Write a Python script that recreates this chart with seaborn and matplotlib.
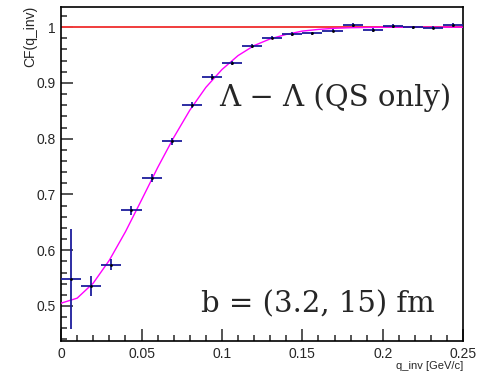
import numpy as np
import matplotlib
matplotlib.use("Agg")
import matplotlib.pyplot as plt
import seaborn as sns
from matplotlib.ticker import MultipleLocator
from matplotlib import font_manager

# ---------------------------------------------------------
# Data
# ---------------------------------------------------------
q_centers = [0.00625, 0.01875, 0.03125, 0.04375, 0.05625, 0.06875, 0.08125,
             0.09375, 0.10625, 0.11875, 0.13125, 0.14375, 0.15625, 0.16875,
             0.18125, 0.19375, 0.20625, 0.21875, 0.23125, 0.24375]
cf_values = [0.548, 0.535, 0.574, 0.672, 0.730, 0.795, 0.860,
             0.911, 0.936, 0.966, 0.981, 0.988, 0.989, 0.994,
             1.004, 0.995, 1.002, 1.000, 0.999, 1.004]
cf_errors = [0.090, 0.018, 0.010, 0.008, 0.007, 0.006, 0.005,
             0.005, 0.004, 0.004, 0.003, 0.003, 0.003, 0.003,
             0.003, 0.003, 0.003, 0.003, 0.003, 0.003]
bin_half = 0.00625

# fit curve
fit_q = [0.0, 0.01, 0.02, 0.03, 0.04, 0.05, 0.06, 0.07, 0.08, 0.09, 0.10,
         0.11, 0.12, 0.13, 0.14, 0.15, 0.16, 0.17, 0.18, 0.20, 0.25]
fit_cf = [0.505, 0.514, 0.541, 0.582, 0.633, 0.690, 0.748, 0.802, 0.851,
          0.892, 0.924, 0.949, 0.967, 0.979, 0.987, 0.993, 0.996, 0.998,
          0.999, 1.000, 1.000]

# narrow sans for the ROOT-like axis text, if it is there
names = {f.name for f in font_manager.fontManager.ttflist}
axis_font = "Liberation Sans Narrow" if "Liberation Sans Narrow" in names else "Liberation Sans"

# ---------------------------------------------------------
# Plot
# ---------------------------------------------------------
sns.set_style("white")
fig = plt.figure(figsize=(4.81, 3.74), dpi=100)
ax = fig.add_axes([0.127, 0.088, 0.836, 0.893])

ax.axhline(1.0, color="#f03c3c", lw=1.4, zorder=2)
sns.lineplot(x=fit_q, y=fit_cf, ax=ax, color="#ff00ff", lw=1.0, zorder=3)
ax.errorbar(q_centers, cf_values, xerr=bin_half, yerr=cf_errors, fmt="none",
            ecolor="#1c1c9c", elinewidth=1.3, capsize=0, zorder=4)
sns.scatterplot(x=q_centers, y=cf_values, ax=ax, color="black", s=4,
                marker="o", linewidth=0, zorder=5)

ax.set_xlim(0, 0.25)
ax.set_ylim(0.437, 1.036)

ax.xaxis.set_minor_locator(MultipleLocator(0.01))
ax.yaxis.set_minor_locator(MultipleLocator(0.02))
ax.set_xticks([0, 0.05, 0.1, 0.15, 0.2, 0.25])
ax.set_xticklabels(["0", "0.05", "0.1", "0.15", "0.2", "0.25"])
ax.set_yticks([0.5, 0.6, 0.7, 0.8, 0.9, 1.0])
ax.set_yticklabels(["0.5", "0.6", "0.7", "0.8", "0.9", "1"])

ax.tick_params(which="major", direction="in", length=8.5, width=1.1,
               labelsize=10, pad=4, left=True, bottom=True)
ax.tick_params(which="minor", direction="in", length=4.3, width=1.1,
               left=True, bottom=True)
for lab in ax.get_xticklabels() + ax.get_yticklabels():
    lab.set_fontfamily(axis_font)

for s in ax.spines.values():
    s.set_color("black")
    s.set_linewidth(1.2)

ax.set_xlabel("")
ax.set_ylabel("")
fig.text(0.963, 0.008, "q_inv [GeV/c]", ha="right", va="bottom",
         fontsize=8, family=axis_font)
fig.text(0.062, 0.985, "CF(q_inv)", ha="center", va="top", rotation=90,
         fontsize=10, family=axis_font)

ax.text(0.098, 0.858, "Λ − Λ (QS only)", fontsize=21, family="DejaVu Serif",
        ha="left", va="baseline")
ax.text(0.087, 0.489, "b = (3.2, 15) fm", fontsize=21, family="DejaVu Serif",
        ha="left", va="baseline")

fig.savefig("out.png", dpi=100)
plt.close(fig)
